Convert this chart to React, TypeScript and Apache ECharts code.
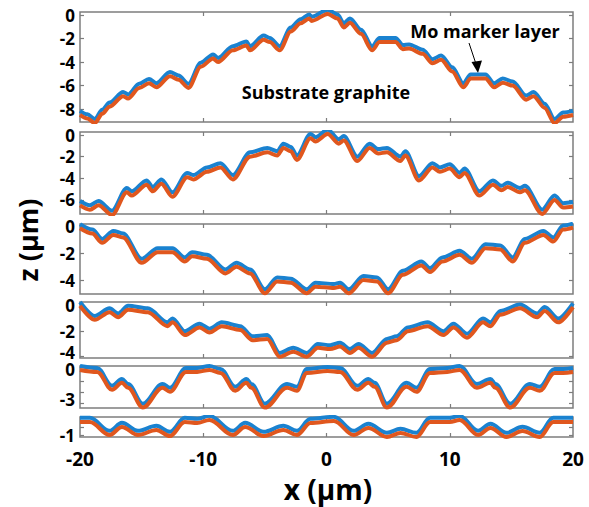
import React, { useEffect, useRef } from "react";
import * as echarts from "echarts";

const X_TICKS = [-20, -10, 0, 10, 20];

const X1 = [-20, -19.4, -18.8, -18.2, -17.6, -16.5, -16.1, -15.2, -14.4, -13.8, -12.7, -12.0, -11.2, -10.2, -9.2, -8.8, -7.6, -6.5, -6.2, -5.1, -4.6, -3.8, -2.9, -2.1, -1.4, -1.2, 0.1, 0.9, 1.4, 1.9, 2.8, 3.7, 4.3, 5.6, 6.2, 6.7, 7.8, 8.6, 9.3, 10.2, 11.1, 11.7, 12.9, 13.6, 14.3, 15.1, 16.2, 16.8, 17.7, 18.5, 19.2, 20];
const ORANGE1 = [-8.5, -8.8, -9.2, -8.4, -7.8, -6.9, -7.1, -6.2, -5.8, -6.15, -5.2, -5.5, -6.2, -4.4, -3.7, -4.0, -3.0, -2.6, -3.0, -2.1, -2.3, -3.0, -1.4, -0.7, -0.3, -0.5, 0.1, -0.3, -1.05, -0.65, -1.6, -3.0, -2.3, -2.3, -2.9, -2.85, -3.3, -4.1, -3.8, -4.8, -6.15, -5.4, -5.4, -6.15, -5.75, -6.0, -7.2, -6.9, -7.9, -9.2, -8.65, -8.5];
const BLUE1 = [-8.15, -8.45, -8.85, -8.05, -7.45, -6.55, -6.75, -5.85, -5.45, -5.8, -4.85, -5.15, -5.85, -4.05, -3.35, -3.65, -2.65, -2.25, -2.65, -1.75, -1.95, -2.65, -1.05, -0.35, 0.05, -0.15, 0.45, 0.05, -0.7, -0.3, -1.25, -2.65, -1.95, -1.95, -2.55, -2.5, -2.95, -3.75, -3.45, -4.45, -5.8, -5.05, -5.05, -5.8, -5.4, -5.65, -6.85, -6.55, -7.55, -8.85, -8.3, -8.15];

const X2 = [-20, -19.2, -18.5, -17.4, -16.2, -15.8, -14.6, -14.1, -13.4, -12.5, -11.3, -10.8, -9.7, -8.6, -7.6, -6.2, -4.8, -4.0, -3.5, -2.9, -2.4, -1.3, -0.9, 0.1, 1.0, 1.4, 2.5, 3.5, 4.2, 4.9, 6.0, 6.4, 7.5, 8.6, 9.2, 10.0, 10.8, 11.2, 12.4, 13.5, 14.2, 14.7, 15.7, 16.1, 17.5, 18.5, 19.2, 20];
const ORANGE2 = [-6.5, -6.9, -6.5, -7.4, -5.3, -5.6, -4.6, -5.2, -4.5, -5.7, -3.9, -4.1, -3.4, -3.0, -4.1, -2.0, -1.6, -1.9, -1.2, -1.5, -2.3, -0.3, -0.6, 0.1, -0.8, -0.5, -2.4, -1.2, -1.7, -1.6, -2.4, -1.9, -4.2, -3.0, -3.4, -3.1, -3.9, -3.5, -5.6, -4.6, -5.1, -4.8, -5.3, -5.1, -7.3, -6.0, -6.7, -6.6];
const BLUE2 = [-6.1, -6.5, -6.1, -7.0, -4.9, -5.2, -4.2, -4.8, -4.1, -5.3, -3.5, -3.7, -3.0, -2.6, -3.7, -1.6, -1.2, -1.5, -0.8, -1.1, -1.9, 0.1, -0.2, 0.5, -0.4, -0.1, -2.0, -0.8, -1.3, -1.2, -2.0, -1.5, -3.8, -2.6, -3.0, -2.7, -3.5, -3.1, -5.2, -4.2, -4.7, -4.4, -4.9, -4.7, -6.9, -5.6, -6.3, -6.2];

const X3 = [-20, -19.0, -18.2, -17.3, -16.5, -15.0, -13.7, -12.5, -11.5, -10.9, -9.7, -8.2, -7.3, -6.2, -5.0, -4.0, -2.9, -1.6, -0.9, 0.6, 1.1, 1.8, 3.0, 4.1, 5.0, 6.2, 7.7, 8.4, 9.4, 10.8, 11.8, 12.9, 14.1, 15.1, 16.1, 17.6, 18.4, 19.2, 20];
const ORANGE3 = [-0.1, -0.5, -1.2, -0.6, -0.8, -2.7, -1.9, -1.9, -2.6, -2.2, -2.4, -3.5, -3.0, -3.5, -5.0, -4.1, -4.2, -5.0, -4.5, -4.6, -4.5, -5.0, -4.0, -4.1, -5.0, -3.6, -2.9, -3.4, -2.6, -2.1, -2.7, -1.6, -1.7, -2.6, -1.2, -0.6, -1.1, -0.2, -0.05];
const BLUE3 = [0.2, -0.2, -0.9, -0.3, -0.5, -2.4, -1.6, -1.6, -2.3, -1.9, -2.1, -3.2, -2.7, -3.2, -4.7, -3.8, -3.9, -4.7, -4.2, -4.3, -4.2, -4.7, -3.7, -3.8, -4.7, -3.3, -2.6, -3.1, -2.3, -1.8, -2.4, -1.3, -1.4, -2.3, -0.9, -0.3, -0.8, 0.1, 0.25];

const X4 = [-20, -18.8, -17.6, -16.9, -16.1, -14.5, -12.9, -12.5, -11.5, -10.3, -9.5, -8.5, -7.0, -6.0, -4.8, -3.8, -2.7, -1.6, -0.7, 0.3, 1.1, 1.9, 2.6, 3.7, 4.9, 5.7, 6.6, 8.2, 9.5, 10.3, 11.4, 12.7, 13.3, 14.1, 15.7, 17.1, 17.7, 18.8, 20];
const ORANGE4 = [0.0, -1.1, -0.5, -0.9, -0.3, -0.5, -1.6, -1.3, -2.3, -1.7, -2.1, -1.6, -1.9, -2.7, -2.6, -4.0, -3.6, -4.0, -3.3, -3.4, -3.2, -3.7, -3.3, -4.0, -2.9, -2.7, -2.0, -1.6, -2.3, -1.7, -2.5, -1.3, -1.6, -0.7, -0.2, -0.9, -0.4, -1.3, -0.1];
const BLUE4 = [0.3, -0.8, -0.2, -0.6, 0.0, -0.2, -1.3, -1.0, -2.0, -1.4, -1.8, -1.3, -1.6, -2.4, -2.3, -3.7, -3.3, -3.7, -3.0, -3.1, -2.9, -3.4, -3.0, -3.7, -2.6, -2.4, -1.7, -1.3, -2.0, -1.4, -2.2, -1.0, -1.3, -0.4, 0.1, -0.6, -0.1, -1.0, 0.2];

const X5 = [-20, -18.6, -17.4, -16.6, -16.1, -14.9, -13.3, -12.7, -11.4, -10.5, -9.5, -8.6, -7.4, -6.5, -6.1, -5.0, -3.2, -2.4, -1.6, 0.1, 1.1, 2.5, 3.4, 3.9, 4.9, 6.5, 7.3, 8.4, 9.8, 10.8, 12.2, 13.3, 13.7, 14.9, 16.5, 17.3, 18.5, 19.2, 20];
const ORANGE5 = [0.0, -0.18, -1.77, -1.15, -1.6, -3.36, -1.6, -1.95, -0.18, -0.18, 0.0, -0.27, -1.86, -1.15, -1.6, -3.36, -1.6, -1.86, -0.27, -0.09, -0.18, -1.77, -1.15, -1.5, -3.36, -1.5, -1.95, -0.27, -0.18, 0.0, -1.6, -1.15, -1.6, -3.36, -1.6, -1.86, -0.27, -0.27, -0.18];
const BLUE5 = [0.35, 0.17, -1.42, -0.8, -1.25, -3.01, -1.25, -1.6, 0.17, 0.17, 0.35, 0.08, -1.51, -0.8, -1.25, -3.01, -1.25, -1.51, 0.08, 0.26, 0.17, -1.42, -0.8, -1.15, -3.01, -1.15, -1.6, 0.08, 0.17, 0.35, -1.25, -0.8, -1.25, -3.01, -1.25, -1.51, 0.08, 0.08, 0.17];

const X6 = [-20, -19.2, -17.6, -16.6, -15.3, -13.8, -12.7, -11.5, -10.5, -9.5, -7.6, -6.6, -5.1, -3.5, -2.4, -1.3, 0.6, 2.2, 3.4, 4.9, 6.0, 7.3, 8.4, 10.0, 10.8, 12.3, 13.3, 14.6, 15.9, 17.3, 18.4, 20];
const ORANGE6 = [-0.2, -0.2, -0.98, -0.5, -0.98, -0.68, -1.04, -0.2, -0.26, -0.08, -0.98, -0.5, -1.04, -0.68, -0.98, -0.26, -0.14, -0.98, -0.56, -1.1, -0.86, -1.1, -0.2, -0.2, -0.08, -0.98, -0.56, -1.1, -0.74, -1.1, -0.2, -0.2];
const BLUE6 = [0.05, 0.05, -0.73, -0.25, -0.73, -0.43, -0.79, 0.05, -0.01, 0.17, -0.73, -0.25, -0.79, -0.43, -0.73, -0.01, 0.11, -0.73, -0.31, -0.85, -0.61, -0.85, 0.05, 0.05, 0.17, -0.73, -0.31, -0.85, -0.49, -0.85, 0.05, 0.05];

const Y_TICKS = [
  [0, -2, -4, -6, -8],
  [0, -2, -4, -6],
  [0, -2, -4],
  [0, -2, -4],
  [0, -1, -2, -3],
  [0, -0.5, -1],
];
const Y_LABELS = [
  [0, -2, -4, -6, -8],
  [0, -2, -4, -6],
  [0, -2, -4],
  [0, -2, -4],
  [0, -3],
  [0, -1],
];
const Y_RANGES = [
  [-9.1, 0.26],
  [-7.3, 0.28],
  [-5.05, 0.22],
  [-4.1, 0.3],
  [-3.4, 0.35],
  [-1.1, 0.1],
];

const PANELS = [
  { x: X1, o: ORANGE1, b: BLUE1 },
  { x: X2, o: ORANGE2, b: BLUE2 },
  { x: X3, o: ORANGE3, b: BLUE3 },
  { x: X4, o: ORANGE4, b: BLUE4 },
  { x: X5, o: ORANGE5, b: BLUE5 },
  { x: X6, o: ORANGE6, b: BLUE6 },
];

// bottom-edge label of a panel is nudged upward
const LAYOUT = [
  { top: 12, height: 110, lift: null as number | null },
  { top: 132, height: 82, lift: null as number | null },
  { top: 224, height: 70, lift: null as number | null },
  { top: 302, height: 56, lift: -4 as number | null },
  { top: 366, height: 42, lift: -3 as number | null },
  { top: 417, height: 20, lift: null as number | null },
];

const FONT = "'Open Sans', 'DejaVu Sans', sans-serif";
const BLUE = "#1A82D0";
const ORANGE = "#E0571E";
const AXIS = "#7d7d7d";

export default function App() {
  const ref = useRef<HTMLDivElement>(null);
  useEffect(() => {
    if (!ref.current) return;
    const chart = echarts.init(ref.current, null, { renderer: "svg" });
    const grid: any[] = [];
    const xAxis: any[] = [];
    const yAxis: any[] = [];
    const series: any[] = [];
    const labelFont = { fontFamily: FONT, fontWeight: "bold", fontSize: 17, color: "#000" };
    PANELS.forEach((p, i) => {
      grid.push({
        left: 80,
        right: 16,
        top: LAYOUT[i].top,
        height: LAYOUT[i].height,
        show: true,
        borderColor: AXIS,
        borderWidth: 1.5,
        backgroundColor: "transparent",
      });
      const isLast = i === PANELS.length - 1;
      ["bottom", "top"].forEach((pos) => {
        xAxis.push({
          type: "value",
          gridIndex: i,
          position: pos,
          min: -20,
          max: 20,
          interval: 10,
          axisLine: { show: false, onZero: false },
          splitLine: { show: false },
          axisTick: {
            show: true,
            inside: true,
            length: 4,
            lineStyle: { color: AXIS, width: 1.2 },
            customValues: [-10, 0, 10],
          },
          axisLabel: {
            show: isLast && pos === "bottom",
            customValues: X_TICKS,
            fontFamily: FONT,
            fontWeight: "bold",
            fontSize: 19,
            color: "#000",
            margin: 12,
          },
        });
      });
      const lift = LAYOUT[i].lift;
      ["left", "right"].forEach((pos) => {
        yAxis.push({
          type: "value",
          gridIndex: i,
          position: pos,
          min: Y_RANGES[i][0],
          max: Y_RANGES[i][1],
          axisLine: { show: false, onZero: false },
          splitLine: { show: false },
          axisTick: {
            show: true,
            inside: true,
            length: 4,
            lineStyle: { color: AXIS, width: 1.2 },
            customValues: Y_TICKS[i],
          },
          axisLabel: {
            show: pos === "left",
            customValues: Y_LABELS[i],
            ...labelFont,
            margin: 5,
            formatter: (v: number) =>
              lift !== null && Math.abs(v - lift) < 1e-6 ? `{up|${v}}` : `{n|${v}}`,
            rich: {
              n: { ...labelFont },
              up: { ...labelFont, padding: [0, 0, 8, 0] },
            },
          },
        });
      });
      const smooth = i >= 4 ? 0.35 : 0.3;
      series.push({
        type: "line",
        xAxisIndex: i * 2,
        yAxisIndex: i * 2,
        data: p.x.map((x, k) => [x, p.b[k]]),
        showSymbol: false,
        smooth,
        smoothMonotone: "x",
        lineStyle: { color: BLUE, width: 4 },
        silent: true,
      });
      series.push({
        type: "line",
        xAxisIndex: i * 2,
        yAxisIndex: i * 2,
        data: p.x.map((x, k) => [x, p.o[k]]),
        showSymbol: false,
        smooth,
        smoothMonotone: "x",
        lineStyle: { color: ORANGE, width: 4 },
        silent: true,
      });
    });

    chart.setOption({
      animation: false,
      backgroundColor: "#fff",
      grid,
      xAxis,
      yAxis,
      series,
      graphic: [
        {
          type: "text",
          style: {
            text: "Mo marker layer",
            x: 485,
            y: 31,
            textAlign: "center",
            textVerticalAlign: "middle",
            fontFamily: FONT,
            fontWeight: "bold",
            fontSize: 18,
            fill: "#000",
          },
        },
        {
          type: "text",
          style: {
            text: "Substrate graphite",
            x: 326,
            y: 92,
            textAlign: "center",
            textVerticalAlign: "middle",
            fontFamily: FONT,
            fontWeight: "bold",
            fontSize: 18,
            fill: "#000",
          },
        },
        {
          type: "line",
          shape: { x1: 469, y1: 43, x2: 476, y2: 64 },
          style: { stroke: "#000", lineWidth: 1 },
        },
        {
          type: "polygon",
          shape: { points: [[478, 73], [471.5, 62], [482, 60.5]] },
          style: { fill: "#000" },
        },
        {
          type: "text",
          rotation: Math.PI / 2,
          x: 27,
          y: 240,
          style: {
            text: "z (μm)",
            x: 0,
            y: 0,
            textAlign: "center",
            textVerticalAlign: "middle",
            fontFamily: FONT,
            fontWeight: "bold",
            fontSize: 27,
            fill: "#000",
          },
        },
        {
          type: "text",
          style: {
            text: "x (μm)",
            x: 328,
            y: 489,
            textAlign: "center",
            textVerticalAlign: "middle",
            fontFamily: FONT,
            fontWeight: "bold",
            fontSize: 28,
            fill: "#000",
          },
        },
      ],
    });
    return () => chart.dispose();
  }, []);
  return <div ref={ref} style={{ width: 589, height: 507, position: "absolute", left: 0, top: 0 }} />;
}
